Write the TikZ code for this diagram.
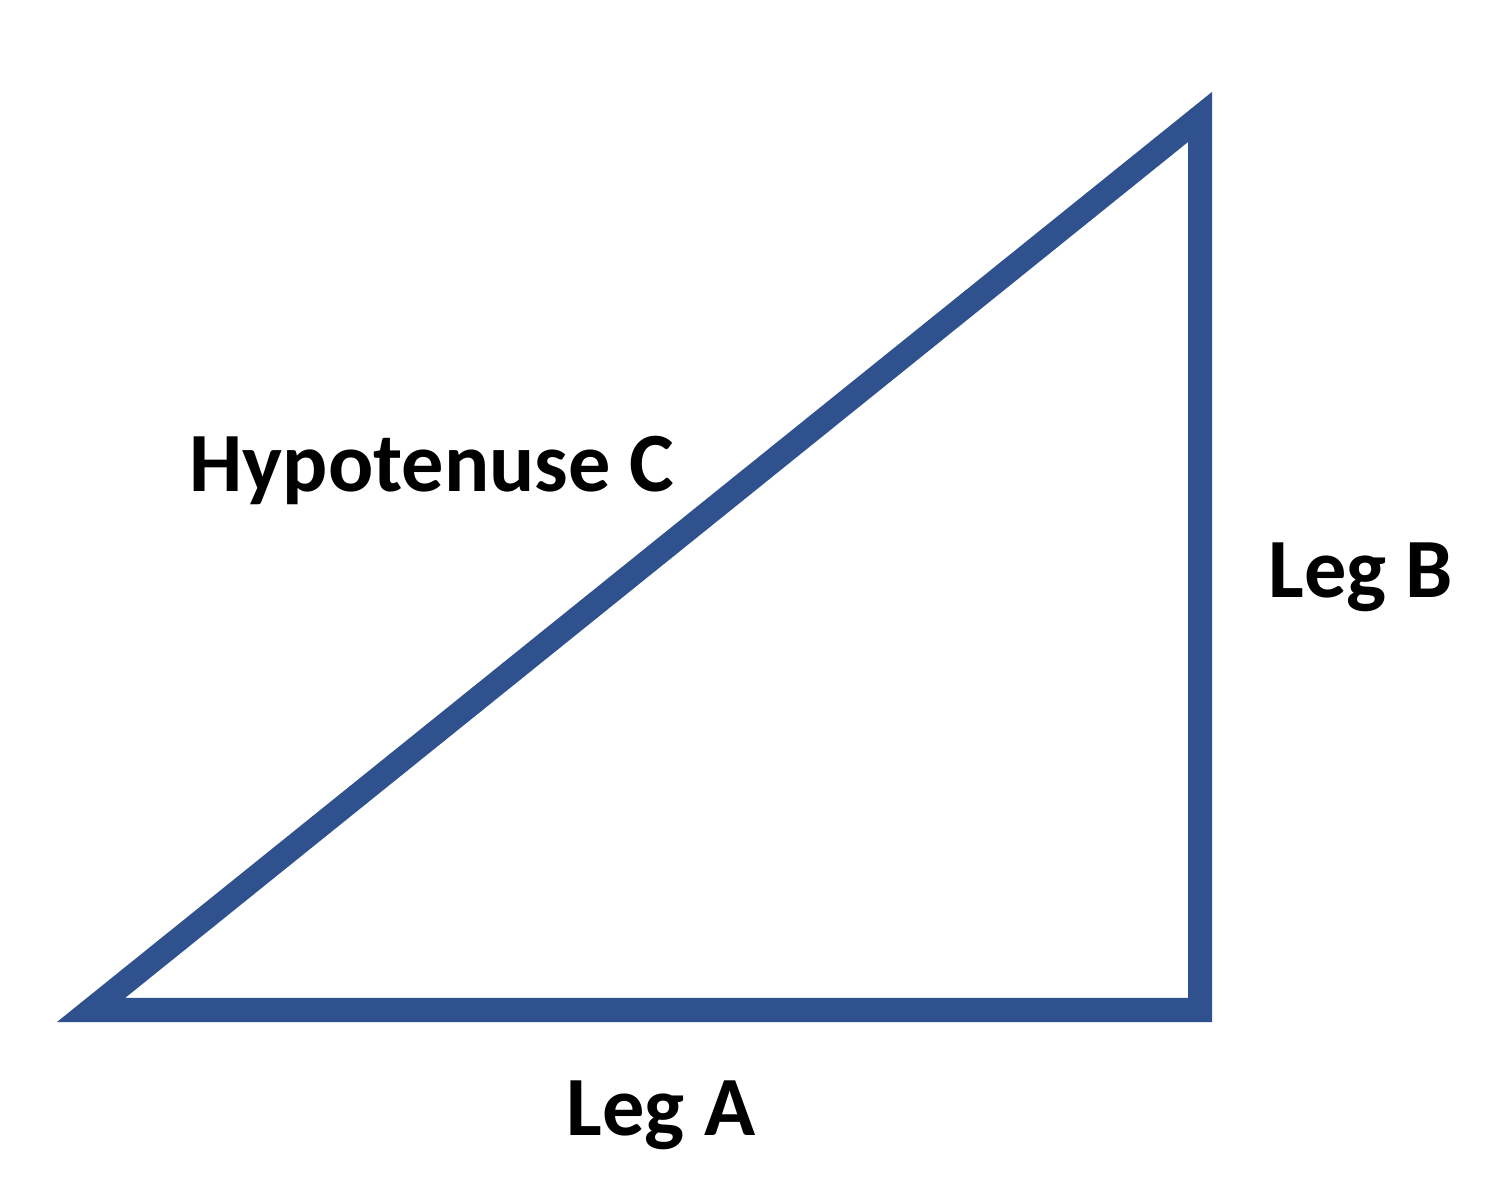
\documentclass[tikz,border=0pt]{standalone}
\usepackage{fontspec}
\setmainfont{Carlito}
\usepackage{tikz}
\usetikzlibrary{positioning}
\definecolor{sideblue}{RGB}{47, 82, 143}

\begin{document}
\begin{tikzpicture}
            \useasboundingbox (0,0) rectangle (15,12);
            \coordinate (cornerA) at (0.91,1.90);
            \coordinate (cornerB) at (12.00,1.90);
            \coordinate (cornerC) at (12.00,10.83);
            \draw[draw=sideblue, line width=0.24cm, line join=miter]
                (cornerA) -- (cornerB) -- (cornerC) -- cycle;
            \node[anchor=base, font=\fontsize{24}{28}\selectfont\bfseries] (hypC) at (4.32,7.08) {
                Hypotenuse C
            };
            \node[anchor=base, font=\fontsize{24}{28}\selectfont\bfseries] (legB) at (13.61,6.02) {
                Leg B
            };
            \node[anchor=base, font=\fontsize{24}{28}\selectfont\bfseries] (legA) at (6.61,0.65) {
                Leg A
            };
        \end{tikzpicture}
\end{document}
